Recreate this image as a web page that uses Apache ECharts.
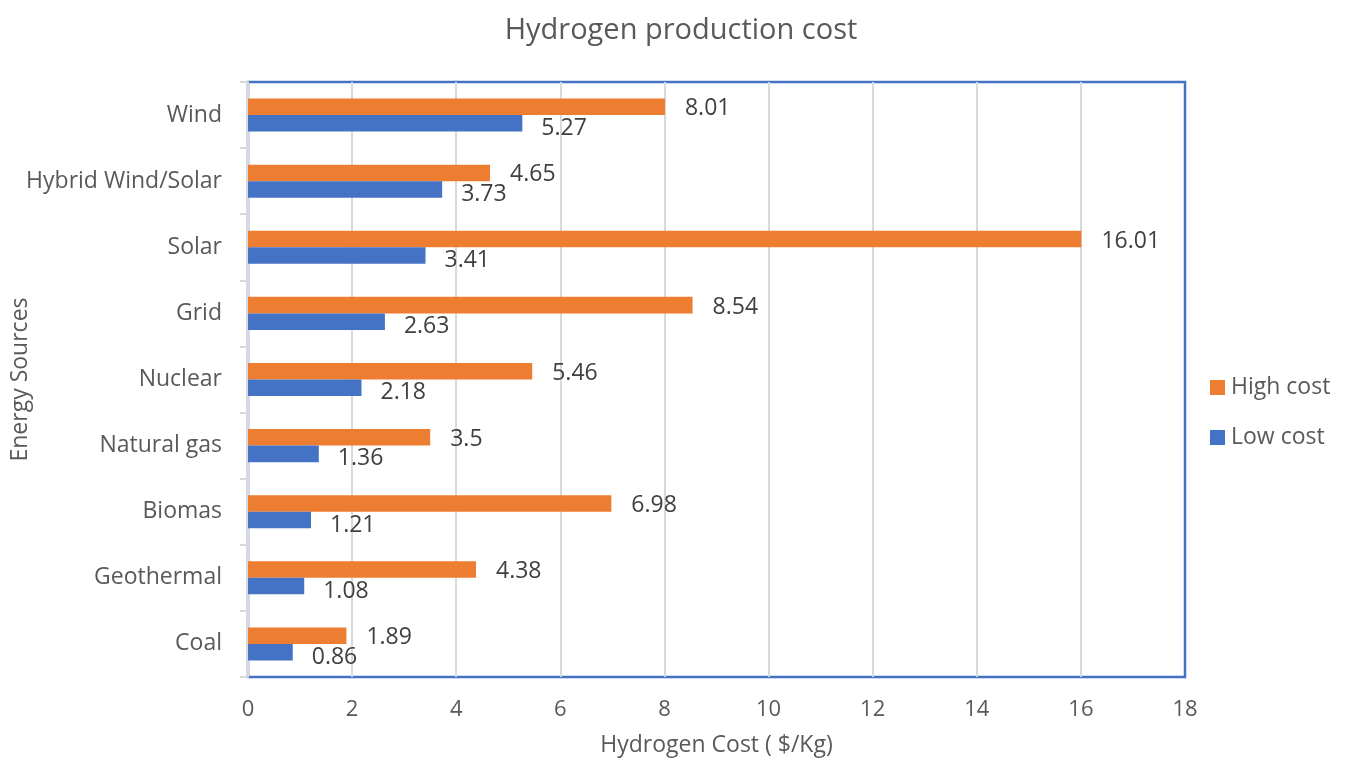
<!DOCTYPE html>
<html>
<head>
<meta charset="utf-8">
<script src="https://cdn.jsdelivr.net/npm/echarts@6/dist/echarts.min.js"></script>
<style>
  html, body { margin: 0; padding: 0; background: #fff; }
  #chart { width: 1347px; height: 758px; }
</style>
</head>
<body>
<div id="chart"></div>
<script>
// Hydrogen production cost by energy source, $/Kg
const categories = ['Wind', 'Hybrid Wind/Solar', 'Solar', 'Grid', 'Nuclear', 'Natural gas', 'Biomas', 'Geothermal', 'Coal'];
const highCost = [8.01, 4.65, 16.01, 8.54, 5.46, 3.5, 6.98, 4.38, 1.89];
const lowCost = [5.27, 3.73, 3.41, 2.63, 2.18, 1.36, 1.21, 1.08, 0.86];

const FONT = 'Open Sans';
const TEXT = '#595959';
const GRID_LINE = '#d9d9d9';

const chart = echarts.init(document.getElementById('chart'));
chart.setOption({
  animation: false,
  textStyle: { fontFamily: FONT },
  title: {
    text: 'Hydrogen production cost',
    left: 676,
    textAlign: 'center',
    top: 11,
    textStyle: { fontFamily: FONT, fontSize: 29, fontWeight: 'normal', color: TEXT }
  },
  legend: {
    orient: 'vertical',
    left: 1210,
    top: 376,
    padding: 0,
    itemWidth: 15,
    itemHeight: 15,
    itemGap: 27,
    icon: 'rect',
    textStyle: { fontFamily: FONT, fontSize: 23, color: TEXT, padding: [0, 0, 0, 1] },
    data: ['High cost', 'Low cost']
  },
  grid: {
    left: 248, right: 162, top: 82, bottom: 81,
    containLabel: false,
    outerBoundsMode: 'none',
    show: true,
    borderColor: '#4472c4',
    borderWidth: 2.5,
    backgroundColor: 'transparent'
  },
  xAxis: {
    type: 'value',
    min: 0, max: 18, interval: 2,
    name: 'Hydrogen Cost ( $/Kg)',
    nameLocation: 'middle',
    nameGap: 57,
    nameMoveOverlap: false,
    nameTextStyle: { fontFamily: FONT, fontSize: 23, color: TEXT },
    axisLine: { show: false },
    axisTick: { show: false },
    axisLabel: { fontFamily: FONT, fontSize: 22, color: TEXT, margin: 22 },
    splitLine: {
      show: true,
      lineStyle: { color: [GRID_LINE, GRID_LINE, GRID_LINE, GRID_LINE, GRID_LINE, GRID_LINE, GRID_LINE, GRID_LINE, GRID_LINE, 'transparent'], width: 2 }
    }
  },
  yAxis: {
    type: 'category',
    inverse: true,
    data: categories,
    name: 'Energy Sources',
    nameLocation: 'middle',
    nameGap: 216,
    nameMoveOverlap: false,
    nameRotate: 90,
    nameTextStyle: { fontFamily: FONT, fontSize: 23, color: TEXT },
    axisLine: { show: true, lineStyle: { color: GRID_LINE, width: 2 } },
    axisTick: { show: true, length: 8, lineStyle: { color: GRID_LINE, width: 2 } },
    axisLabel: { fontFamily: FONT, fontSize: 23, color: TEXT, margin: 26 }
  },
  series: [
    {
      name: 'High cost',
      type: 'bar',
      data: highCost,
      itemStyle: { color: '#ed7d31' },
      barGap: '0%',
      barCategoryGap: '50%',
      label: {
        show: true, position: 'right', distance: 20, offset: [0, 2],
        fontFamily: FONT, fontSize: 23, color: '#404040'
      }
    },
    {
      name: 'Low cost',
      type: 'bar',
      data: lowCost,
      itemStyle: { color: '#4472c4' },
      barGap: '0%',
      barCategoryGap: '50%',
      label: {
        show: true, position: 'right', distance: 19, offset: [0, 5],
        fontFamily: FONT, fontSize: 23, color: '#404040'
      }
    }
  ]
});
</script>
</body>
</html>
